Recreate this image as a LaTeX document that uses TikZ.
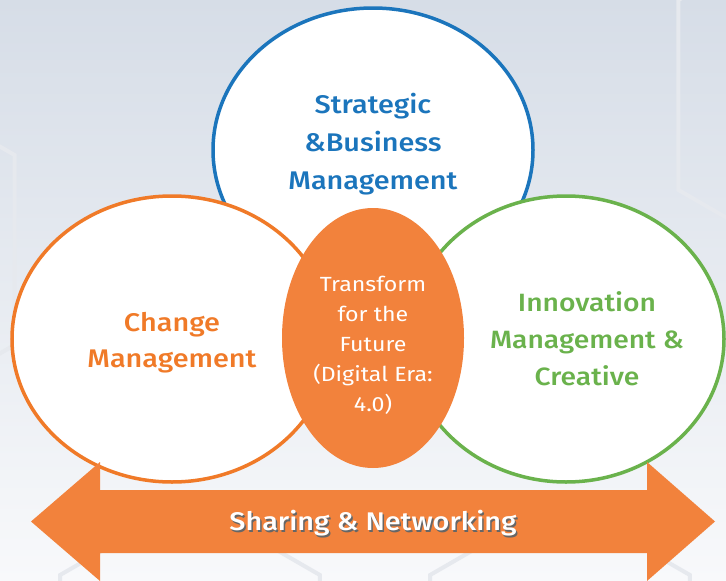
\documentclass[tikz,border=0pt]{standalone}
\usepackage{fontspec}
\setmainfont{Fira Sans}[BoldFont={Fira Sans Medium},FakeStretch=1.13]
\usepackage{tikz}
\usetikzlibrary{positioning,calc,shapes.geometric}
\definecolor{bizblue}{HTML}{1B75BC}
\definecolor{chgorange}{HTML}{F07A28}
\definecolor{innogreen}{HTML}{6AB24C}
\definecolor{hubfill}{HTML}{F2823C}
\definecolor{bgtop}{HTML}{D6DDE7}
\definecolor{bgbottom}{HTML}{F8F9FB}
\definecolor{hexgray}{HTML}{E6E9EE}
\tikzset{
  ring/.style={ellipse,draw,line width=3.5pt,fill=white,inner sep=0pt},
  hub/.style={ellipse,fill=hubfill,inner sep=0pt},
  lbl/.style={align=center,font=\bfseries\fontsize{25.5}{38}\selectfont},
  hublbl/.style={align=center,text=white,font=\fontsize{20.5}{30}\selectfont},
  hexline/.style={draw=hexgray,line width=4pt}
}

\begin{document}
\begin{tikzpicture}[x=1pt,y=-1pt]
\useasboundingbox (0,0) rectangle (726,581);
\shade[top color=bgtop,bottom color=bgbottom] (0,0) rectangle (726,581);
% faint hexagons in the back
\foreach \hx/\hy/\hr in {843/95/190, -150/250/190, 190/650/150, 560/650/150}
  \draw[hexline] (\hx,\hy) +(30:\hr) -- +(90:\hr) -- +(150:\hr) -- +(210:\hr)
    -- +(270:\hr) -- +(330:\hr) -- cycle;

\node [ring,draw=bizblue,minimum width=320pt,minimum height=284pt] (strat) at (373,150) {};
\node [ring,draw=chgorange,minimum width=320pt,minimum height=286pt] (change) at (172,339) {};
\node [ring,draw=innogreen,minimum width=316pt,minimum height=286pt] (innov) at (566,339) {};
\node [hub,minimum width=182pt,minimum height=260pt] (future) at (373,338) {};

\node [lbl,text=bizblue] (strattxt) at ([yshift=6pt]strat.center)
  {Strategic\\\&Business\\Management};
\node [lbl,text=chgorange,font=\bfseries\fontsize{25.5}{36}\selectfont] (changetxt) at ([yshift=-4pt]change.center)
  {Change\\Management};
\node [lbl,text=innogreen,font=\bfseries\fontsize{25}{37}\selectfont] (innovtxt) at ([xshift=21pt]innov.center)
  {Innovation\\Management \&\\Creative};
\node [hublbl] (futuretxt) at ([yshift=-7pt]future.center)
  {Transform\\for the\\Future\\(Digital Era:\\4.0)};

% the two headed arrow
\coordinate (tipl) at (31,521.5);
\coordinate (tipr) at (715,521.5);
\fill[hubfill] (tipl) -- (100,462) -- (100,490) -- (647,490) -- (647,462) -- (tipr)
  -- (647,581) -- (647,553) -- (100,553) -- (100,581) -- cycle;
\node [font=\bfseries\fontsize{25.5}{30}\selectfont,text=black!60] (shareshadow) at (374.5,525) {Sharing \& Networking};
\node [font=\bfseries\fontsize{25.5}{30}\selectfont,text=white] (share) at (373,523.5) {Sharing \& Networking};
\end{tikzpicture}
\end{document}
